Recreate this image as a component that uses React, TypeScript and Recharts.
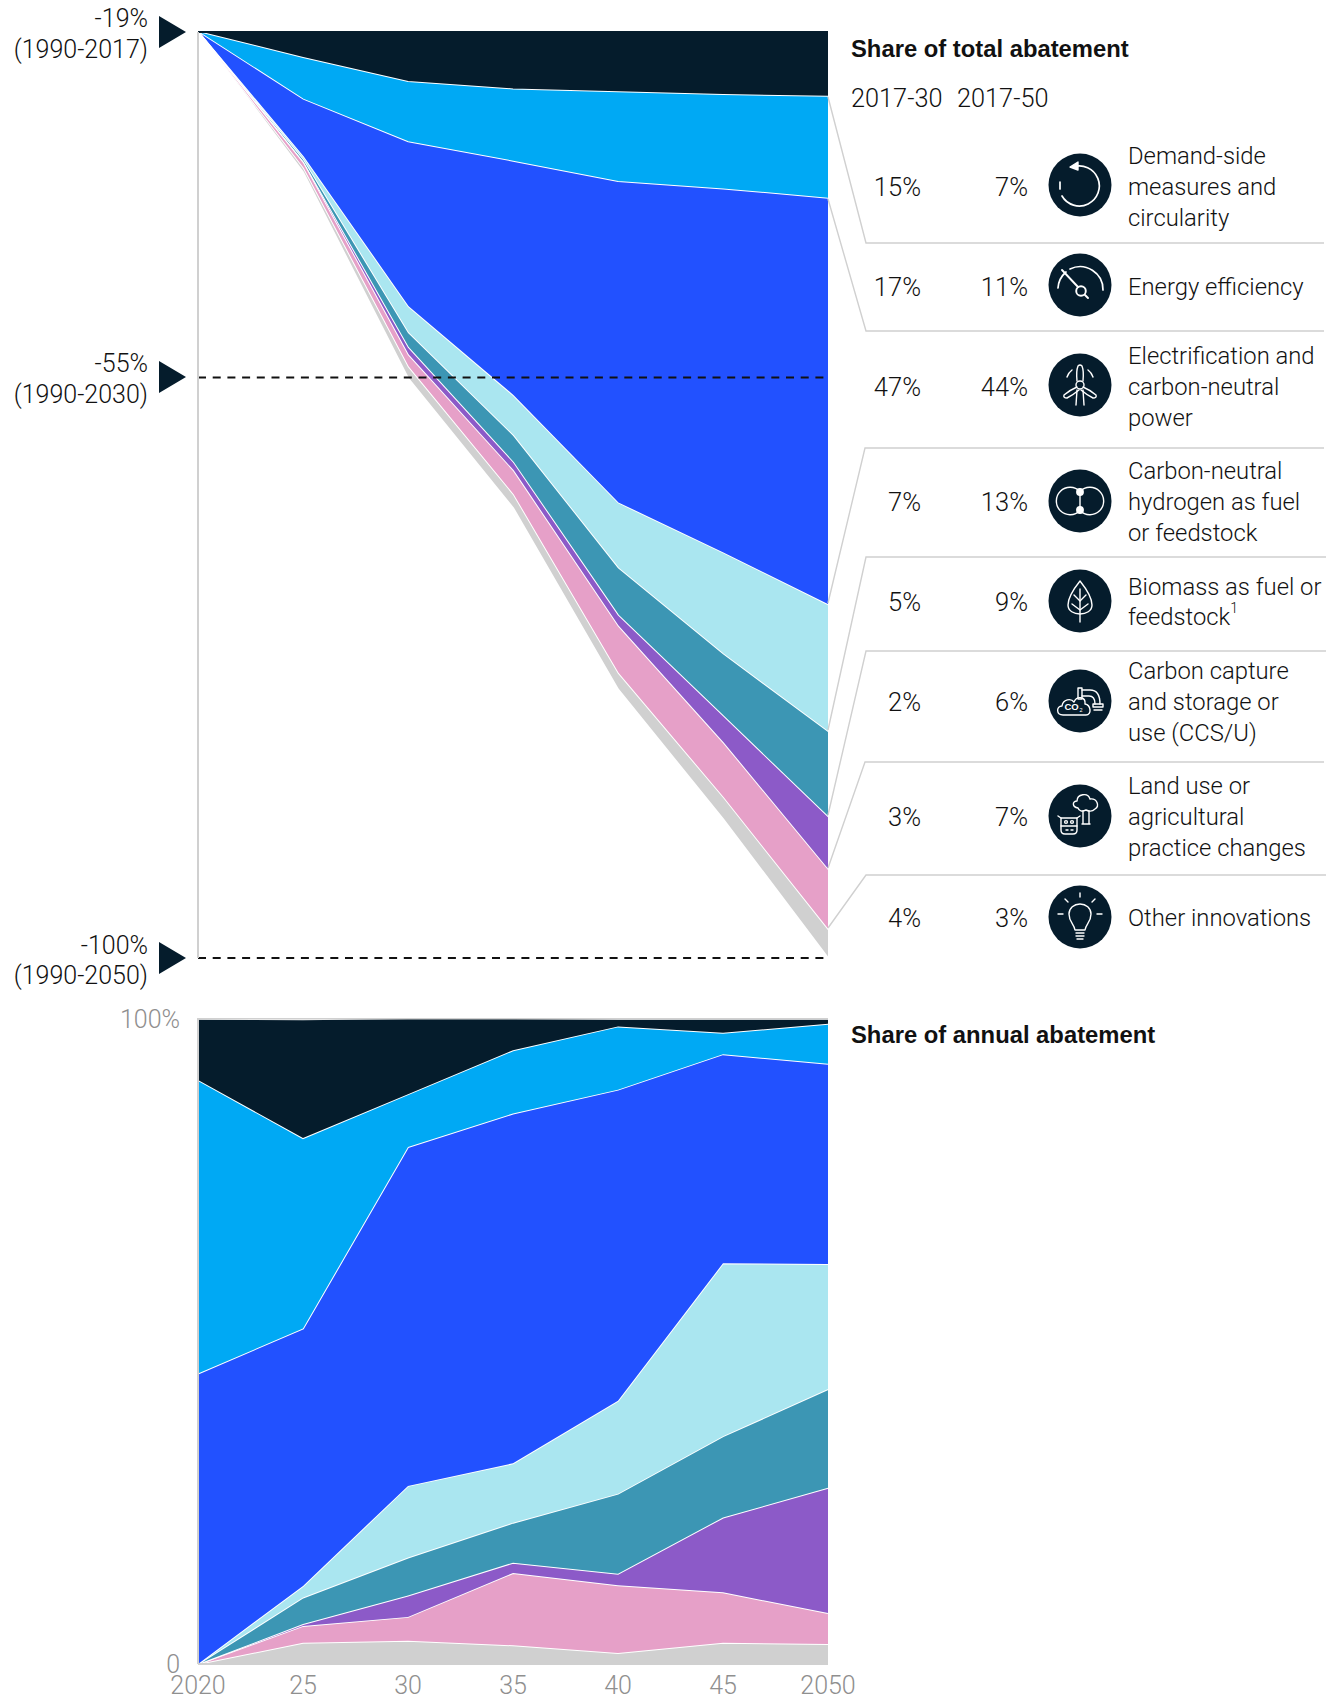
import React from "react";
import { AreaChart, Area, XAxis, YAxis, ReferenceLine } from "recharts";

// ---- data ----
const YEARS = [2020, 2025, 2030, 2035, 2040, 2045, 2050];
const YEAR_LABELS = ["2020", "25", "30", "35", "40", "45", "2050"];

// cumulative chart: band thickness as share of the path between -19% and -100%
const TOTAL_DEMAND = [0, 2.8, 5.4, 6.2, 6.5, 6.8, 7.0];
const TOTAL_EFFICIENCY = [0, 4.5, 6.5, 7.8, 9.7, 10.2, 11.0];
const TOTAL_ELECTRIFICATION = [0, 6.2, 17.8, 25.3, 34.7, 39.3, 43.9];
const TOTAL_HYDROGEN = [0, 0.3, 2.8, 4.3, 7.0, 10.9, 13.7];
const TOTAL_BIOMASS = [0, 0.3, 1.6, 2.9, 5.1, 6.7, 9.2];
const TOTAL_CCS = [0, 0.05, 0.8, 0.9, 1.2, 2.9, 5.7];
const TOTAL_LAND = [0, 0.6, 1.3, 2.6, 5.1, 5.9, 6.5];
const TOTAL_OTHER = [0, 0.4, 1.2, 1.4, 1.7, 2.3, 3.0];
const LINE_2030 = 37.3;
const LINE_2050 = 100;

// annual chart: share of annual abatement, %
const ANNUAL_DEMAND = [9.5, 18.4, 11.8, 5.0, 1.2, 2.2, 0.8];
const ANNUAL_EFFICIENCY = [45.5, 29.5, 8.2, 9.8, 9.8, 3.3, 6.2];
const ANNUAL_ELECTRIFICATION = [45.0, 39.9, 52.5, 54.2, 48.2, 32.4, 31.0];
const ANNUAL_HYDROGEN = [0, 1.8, 11.1, 9.2, 14.4, 26.8, 19.4];
const ANNUAL_BIOMASS = [0, 4.1, 5.9, 6.2, 12.4, 12.6, 15.3];
const ANNUAL_CCS = [0, 0.3, 3.3, 1.6, 1.8, 11.6, 19.4];
const ANNUAL_LAND = [0, 2.6, 3.7, 11.2, 10.5, 7.8, 4.8];
const ANNUAL_OTHER = [0, 3.3, 3.6, 2.9, 1.7, 3.3, 3.1];

const SHARE_2030 = ["15%", "17%", "47%", "7%", "5%", "2%", "3%", "4%"];
const SHARE_2050 = ["7%", "11%", "44%", "13%", "9%", "6%", "7%", "3%"];
const LEVER_LINES = [
  ["Demand-side", "measures and", "circularity"],
  ["Energy efficiency"],
  ["Electrification and", "carbon-neutral", "power"],
  ["Carbon-neutral", "hydrogen as fuel", "or feedstock"],
  ["Biomass as fuel or", "feedstock"],
  ["Carbon capture", "and storage or", "use (CCS/U)"],
  ["Land use or", "agricultural", "practice changes"],
  ["Other innovations"],
];

const TARGET_LABELS = [
  ["-19%", "(1990-2017)"],
  ["-55%", "(1990-2030)"],
  ["-100%", "(1990-2050)"],
];

// ---- look ----
const FONT = "Roboto, 'Liberation Sans', Arial, sans-serif";
const BOLD_FONT = "'Liberation Sans', Arial, sans-serif";
const INK = "#111111";
const NAVY = "#051C2C";
const GREY_TEXT = "#8f8f8f";
const RULE = "#D0D0D0";
const COLORS = {
  demand: "#051C2C",
  efficiency: "#00A9F4",
  electrification: "#2251FF",
  hydrogen: "#AAE6F0",
  biomass: "#3C96B4",
  ccs: "#8C5AC8",
  land: "#E6A0C8",
  other: "#D0D0D0",
};
const KEYS_TOP_DOWN = ["demand", "efficiency", "electrification", "hydrogen", "biomass", "ccs", "land", "other"] as const;

const totalData = YEARS.map((year, i) => ({
  year,
  demand: TOTAL_DEMAND[i],
  efficiency: TOTAL_EFFICIENCY[i],
  electrification: TOTAL_ELECTRIFICATION[i],
  hydrogen: TOTAL_HYDROGEN[i],
  biomass: TOTAL_BIOMASS[i],
  ccs: TOTAL_CCS[i],
  land: TOTAL_LAND[i],
  other: TOTAL_OTHER[i],
}));

const annualData = YEARS.map((year, i) => ({
  year,
  demand: ANNUAL_DEMAND[i],
  efficiency: ANNUAL_EFFICIENCY[i],
  electrification: ANNUAL_ELECTRIFICATION[i],
  hydrogen: ANNUAL_HYDROGEN[i],
  biomass: ANNUAL_BIOMASS[i],
  ccs: ANNUAL_CCS[i],
  land: ANNUAL_LAND[i],
  other: ANNUAL_OTHER[i],
}));

const PLOT_LEFT = 198;
const PLOT_RIGHT = 828;
const PAGE_W = 1338;
const PAGE_H = 1699;
const AXIS_W = 1;

const ROW_Y = [187, 287, 387, 502, 602, 702, 817, 918];
const ICON_Y = [185, 285, 385, 501, 601, 701, 816, 917];
const TARGET_Y = [32, 377, 958];
const TARGET_TEXT_Y = [[18, 49], [363, 394], [945, 975]];
const CONNECTORS = [
  "828,97 866,243 1324,243",
  "828,199 866,331 1324,331",
  "828,603 865,448 1324,448",
  "828,730 866,557 1326,557",
  "828,815 866,651 1326,651",
  "828,868 865,762 1324,762",
  "828,928 866,875 1326,875",
];

const lineStyle = { fill: "none", stroke: "#fff", strokeWidth: 1.4, strokeLinecap: "round" as const, strokeLinejoin: "round" as const };

function IconLoop() {
  return (
    <g {...lineStyle}>
      <path d="M-7 -18 A20 20 0 1 1 -18 11" strokeWidth={1.7} />
      <path d="M-20 -3 L-20 4" strokeWidth={1.7} />
      <path d="M-2 -23 L-10 -18 L-2 -15 Z" fill="#fff" />
    </g>
  );
}
function IconGauge() {
  return (
    <g {...lineStyle}>
      <path d="M-22 3 A23 23 0 0 1 -14 -13" strokeWidth={1.7} />
      <path d="M-10 -16 A23 23 0 0 1 23 5" strokeWidth={1.7} />
      <path d="M-18 -15 L-2 2" strokeWidth={1.9} />
      <circle cx={1} cy={6} r={4.8} strokeWidth={1.9} />
      <path d="M5 10 L8 13" strokeWidth={1.9} />
    </g>
  );
}
function IconTurbine() {
  return (
    <g {...lineStyle}>
      <path d="M-3 5 L-4 20 M3 5 L4 20" />
      <circle cx={0} cy={0} r={4} />
      <path d="M-3 -4 Q-4 -14 -2 -19 Q0 -21 2 -19 Q4 -14 3 -4" />
      <path d="M3 2 Q10 5 16 10 Q17 13 13 13 Q7 10 1 5" />
      <path d="M-3 2 Q-10 5 -16 10 Q-17 13 -13 13 Q-7 10 -1 5" />
      <path d="M-13 -8 A14 14 0 0 1 -8 -15 M13 -8 A14 14 0 0 0 8 -15" />
    </g>
  );
}
function IconHydrogen() {
  return (
    <g {...lineStyle}>
      <path d="M0 -9.4 A13.7 13.7 0 1 0 0 9.4 A13.7 13.7 0 1 0 0 -9.4" />
      <path d="M0 -9 L0 9" />
      <circle cx={0} cy={-9} r={3.2} fill="#fff" />
      <circle cx={0} cy={9} r={3.2} fill="#fff" />
    </g>
  );
}
function IconLeaf() {
  return (
    <g {...lineStyle}>
      <path d="M0 -20 C-8 -10 -12 -3 -12 4 C-12 10 -6 13 0 13 C6 13 12 10 12 4 C12 -3 8 -10 0 -20 Z" />
      <path d="M0 -12 L0 21" />
      <path d="M-6 -6 L0 0 L6 -6 M-8 3 L0 9 L8 3" />
    </g>
  );
}
function IconCapture() {
  return (
    <g>
      <g {...lineStyle}>
        <path d="M-17 14 C-24 14 -24 5 -18 5 C-17 -2 -9 -3 -6 1 C-3 -6 6 -4 5 3 C11 4 12 14 6 14 Z" />
        <path d="M2 -11 L10 -11 C18 -11 20 -5 20 3" />
        <path d="M2 -5 L9 -5 C13 -5 15 -2 15 3" />
        <path d="M-2 -13 L2 -13 L2 -2 L-2 -2 Z" />
        <path d="M13 3 L23 3 L23 6 L13 6 Z M14 9 L22 9" />
      </g>
      <text x={-15.5} y={9} fontSize={9.5} fontFamily={BOLD_FONT} fontWeight={700} fill="#fff">CO</text>
      <text x={-0.5} y={11} fontSize={5.5} fontFamily={BOLD_FONT} fill="#fff">2</text>
    </g>
  );
}
function IconLand() {
  return (
    <g {...lineStyle}>
      <path d="M-2 -8 C-8 -9 -8 -15 -3 -15 C-3 -22 8 -24 10 -17 C17 -18 20 -10 15 -7 C12 -4 8 -5 6 -6 C2 -4 -1 -5 -2 -8 Z" />
      <path d="M3 -5 L3 8 M9 -5 L9 8 M2 8 L10 8" />
      <path d="M-19 2 L-3 2 L-3 14 Q-3 18 -7 18 L-15 18 Q-19 18 -19 14 Z" />
      <path d="M-19 2 L-22 0 M-3 2 L0 0 M-19 10 L-3 10" />
      <circle cx={-14} cy={6} r={1.4} />
      <circle cx={-8} cy={6} r={1.4} />
      <path d="M-14 14 L-12 14 M-9 14 L-7 14" />
    </g>
  );
}
function IconBulb() {
  return (
    <g {...lineStyle}>
      <path d="M-5 13 C-6 7 -11 5 -11 -3 C-11 -9 -6 -13 0 -13 C6 -13 11 -9 11 -3 C11 5 6 7 5 13 Z" />
      <path d="M-4 16 L4 16 M-4 19 L4 19 M-3 22 L3 22" />
      <path d="M0 -20 L0 -24 M-12 -15 L-15 -18 M12 -15 L15 -18 M-17 -3 L-22 -3 M17 -3 L22 -3" />
    </g>
  );
}
const ICONS = [IconLoop, IconGauge, IconTurbine, IconHydrogen, IconLeaf, IconCapture, IconLand, IconBulb];

function Overlay() {
  const textProps = { fontFamily: FONT, fontWeight: 300, fontSize: 25, fill: INK, dominantBaseline: "central" as const };
  const boldProps = { fontFamily: BOLD_FONT, fontWeight: 700, fontSize: 23.8, fill: "#111", dominantBaseline: "central" as const };
  return (
    <svg width={PAGE_W} height={PAGE_H} style={{ position: "absolute", left: 0, top: 0, pointerEvents: "none" }}>
      {/* targets on the left */}
      {TARGET_LABELS.map((lines, i) => (
        <g key={i}>
          <polygon points={`159,${TARGET_Y[i] - 16} 159,${TARGET_Y[i] + 16} 186,${TARGET_Y[i]}`} fill={NAVY} />
          {lines.map((line, j) => (
            <text key={j} x={148} y={TARGET_TEXT_Y[i][j]} textAnchor="end" {...textProps}>{line}</text>
          ))}
        </g>
      ))}

      {/* connectors from the bands to the table */}
      {CONNECTORS.map((pts, i) => (
        <polyline key={i} points={pts} fill="none" stroke={RULE} strokeWidth={1.4} />
      ))}

      {/* table */}
      <text x={851} y={48.5} {...boldProps}>Share of total abatement</text>
      <text x={851} y={98} {...textProps} fontSize={25.3}>2017-30</text>
      <text x={957} y={98} {...textProps} fontSize={25.3}>2017-50</text>
      <text x={851} y={1034.5} {...boldProps}>Share of annual abatement</text>

      {LEVER_LINES.map((lines, i) => {
        const Icon = ICONS[i];
        return (
          <g key={i}>
            <text x={921} y={ROW_Y[i]} textAnchor="end" {...textProps} fontSize={25.5}>{SHARE_2030[i]}</text>
            <text x={1028} y={ROW_Y[i]} textAnchor="end" {...textProps} fontSize={25.5}>{SHARE_2050[i]}</text>
            <g transform={`translate(1080,${ICON_Y[i]})`}>
              <circle r={31.5} fill={NAVY} />
              <Icon />
            </g>
            {lines.map((line, j) => (
              <text key={j} x={1128} y={ROW_Y[i] + (j - (lines.length - 1) / 2) * 30.6} {...textProps} fontSize={23.8}>
                {line}
                {line === "feedstock" ? <tspan dy={-9} fontSize={14}>1</tspan> : null}
              </text>
            ))}
          </g>
        );
      })}
    </svg>
  );
}

export default function App() {
  return (
    <div style={{ position: "absolute", left: 0, top: 0, width: PAGE_W, height: PAGE_H, background: "#fff", overflow: "hidden" }}>
      {/* cumulative abatement */}
      <div style={{ position: "absolute", left: 0, top: 0 }}>
        <AreaChart
          width={PAGE_W}
          height={980}
          data={totalData}
          margin={{ top: 32, right: PAGE_W - PLOT_RIGHT, bottom: 22, left: PLOT_LEFT - AXIS_W }}
        >
          <XAxis dataKey="year" type="number" domain={[2020, 2050]} hide height={0} />
          <YAxis
            width={AXIS_W}
            reversed
            domain={[0, 100]}
            ticks={[0, 100]}
            tick={false}
            tickLine={false}
            axisLine={{ stroke: RULE, strokeWidth: 2 }}
          />
          {KEYS_TOP_DOWN.map((key) => (
            <Area
              key={key}
              dataKey={key}
              stackId="total"
              type="linear"
              fill={COLORS[key]}
              fillOpacity={1}
              stroke="#fff"
              strokeWidth={2}
              dot={false}
              isAnimationActive={false}
            />
          ))}
          <ReferenceLine y={0} stroke={NAVY} strokeWidth={2} />
          <ReferenceLine y={LINE_2030} stroke="#111" strokeWidth={2} strokeDasharray="8 6.7" />
          <ReferenceLine y={LINE_2050} stroke="#111" strokeWidth={2} strokeDasharray="8 6.7" />
        </AreaChart>
      </div>

      {/* annual abatement */}
      <div style={{ position: "absolute", left: 0, top: 1000 }}>
        <AreaChart
          width={PAGE_W}
          height={699}
          data={annualData}
          margin={{ top: 18, right: PAGE_W - PLOT_RIGHT, bottom: 0, left: PLOT_LEFT - AXIS_W }}
        >
          <XAxis
            dataKey="year"
            type="number"
            domain={[2020, 2050]}
            ticks={YEARS}
            interval={0}
            height={35}
            tickLine={false}
            tickSize={0}
            tickMargin={12}
            axisLine={{ stroke: RULE, strokeWidth: 2 }}
            tick={{ fill: GREY_TEXT, fontSize: 25, fontFamily: FONT, fontWeight: 300 }}
            tickFormatter={(_: number, i: number) => YEAR_LABELS[i]}
          />
          <YAxis
            width={AXIS_W}
            domain={[0, 100]}
            ticks={[0, 100]}
            interval={0}
            tickLine={false}
            tickSize={0}
            tickMargin={18}
            axisLine={{ stroke: RULE, strokeWidth: 2 }}
            tick={{ fill: GREY_TEXT, fontSize: 25, fontFamily: FONT, fontWeight: 300 }}
            tickFormatter={(v: number) => (v === 100 ? "100%" : "0")}
          />
          {[...KEYS_TOP_DOWN].reverse().map((key) => (
            <Area
              key={key}
              dataKey={key}
              stackId="annual"
              type="linear"
              fill={COLORS[key]}
              fillOpacity={1}
              stroke="#fff"
              strokeWidth={2}
              dot={false}
              isAnimationActive={false}
            />
          ))}
          <ReferenceLine y={100} stroke={RULE} strokeWidth={1.5} />
        </AreaChart>
      </div>

      <Overlay />
    </div>
  );
}
